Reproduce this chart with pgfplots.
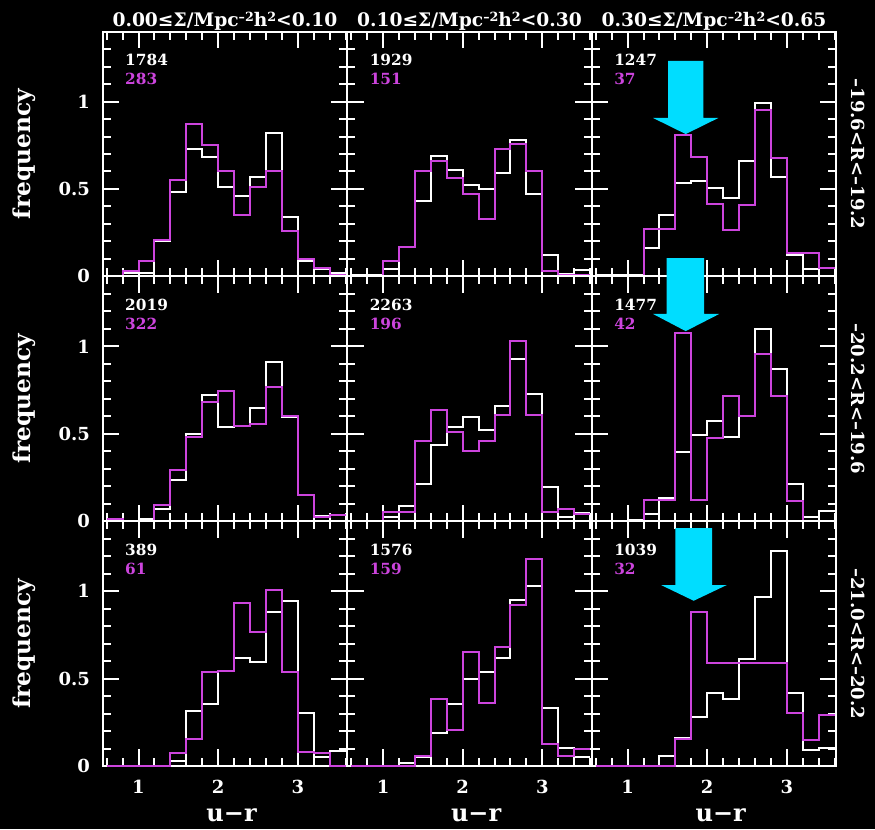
\documentclass[border=0pt]{standalone}
\usepackage{fontspec}
\setmainfont{DejaVu Serif}
\usepackage{pgfplots}
\pgfplotsset{compat=1.18}
\definecolor{mag}{RGB}{204,68,221}
\definecolor{cy}{RGB}{0,221,255}
\newcommand{\tfont}{\fontsize{14}{14}\selectfont\bfseries}
\newcommand{\kfont}{\fontsize{13.5}{13.5}\selectfont\bfseries}
\newcommand{\cfont}{\fontsize{11.5}{11.5}\selectfont\bfseries}
\newcommand{\supx}[1]{\raisebox{0.55ex}{\fontsize{9.5}{9.5}\selectfont #1}}
\pgfplotsset{
  panel/.style={
    scale only axis, width=183.4pt, height=183.6pt,
    anchor=south west, clip=false,
    xmin=0.55, xmax=3.62, ymin=0, ymax=1.4,
    axis line style={white, line width=1.5pt},
    tick style={white, line width=1.5pt},
    tick align=inside,
    major tick length=12.5pt, minor tick length=6pt,
    xtick={1,2,3}, ytick={0,0.5,1},
    minor xtick={0.6,0.8,1.2,1.4,1.6,1.8,2.2,2.4,2.6,2.8,3.2,3.4,3.6},
    minor ytick={0.1,0.2,0.3,0.4,0.6,0.7,0.8,0.9,1.1,1.2,1.3},
    xticklabels={}, yticklabels={},
    ticklabel style={white, font=\kfont},
    yticklabel style={xshift=-6pt},
    xticklabel style={yshift=-7pt},
  },
  wh/.style={white, line width=1.5pt, const plot, mark=none},
  mg/.style={mag, line width=1.5pt, const plot, mark=none},
}
\newcommand{\counts}[2]{%
  \node[anchor=west, inner sep=0pt, text=white, font=\cfont] at (axis cs:0.83,1.237) {#1};
  \node[anchor=west, inner sep=0pt, text=mag, font=\cfont] at (axis cs:0.83,1.129) {#2};}
\newcommand{\ttl}[1]{\node[anchor=base, text=white, font=\tfont, inner sep=0pt] at ([yshift=3.8pt]rel axis cs:0.5,1) {#1};}
\newcommand{\rlab}[1]{\node[rotate=-90, text=white, font=\fontsize{13.5}{13.5}\selectfont\bfseries, inner sep=0pt] at ([xshift=16.5pt]rel axis cs:1,0.5) {#1};}
\newcommand{\flab}{\node[rotate=90, text=white, font=\fontsize{17.5}{17.5}\selectfont\bfseries, inner sep=0pt] at ([xshift=-59pt]rel axis cs:0,0.5) {frequency};}
\newcommand{\ulab}{\node[text=white, font=\fontsize{18}{18}\selectfont\bfseries, inner sep=0pt] at ([xshift=5pt,yshift=-37pt]rel axis cs:0.5,0) {u−r};}
\newcommand{\Arrow}[8]{\fill[cy] (axis cs:#1,#3) -- (axis cs:#2,#3) -- (axis cs:#2,#4) -- (axis cs:#6,#4) -- (axis cs:#7,#8) -- (axis cs:#5,#4) -- (axis cs:#1,#4) -- cycle;}
\begin{document}
\begin{tikzpicture}
\fill[black] (0,0) rectangle (656.25pt,621.75pt);
\path[use as bounding box] (0,0) rectangle (656.25pt,621.75pt);
% ---------------- row 1 ----------------
\begin{axis}[panel, at={(77pt,414.45pt)}, yticklabels={0,0.5,1}]
\addplot[wh] coordinates {(0.6,0) (0.8,0.02) (1.0,0.02) (1.2,0.2) (1.4,0.48) (1.6,0.73) (1.8,0.68) (2.0,0.51) (2.2,0.46) (2.4,0.57) (2.6,0.82) (2.8,0.34) (3.0,0.09) (3.2,0.04) (3.4,0.02) (3.6,0.02)};
\addplot[mg] coordinates {(0.6,0) (0.8,0.03) (1.0,0.09) (1.2,0.21) (1.4,0.55) (1.6,0.87) (1.8,0.75) (2.0,0.60) (2.2,0.35) (2.4,0.51) (2.6,0.60) (2.8,0.26) (3.0,0.10) (3.2,0.05) (3.4,0.01) (3.6,0.01)};
\counts{1784}{283}
\ttl{0.00≤Σ/Mpc\supx{–2}h\supx{2}<0.10}
\flab
\end{axis}
\begin{axis}[panel, at={(260.4pt,414.45pt)}]
\addplot[wh] coordinates {(0.6,0.01) (0.8,0.01) (1.0,0.04) (1.2,0.17) (1.4,0.43) (1.6,0.69) (1.8,0.61) (2.0,0.52) (2.2,0.50) (2.4,0.59) (2.6,0.78) (2.8,0.47) (3.0,0.12) (3.2,0.015) (3.4,0.034) (3.6,0.034)};
\addplot[mg] coordinates {(0.6,0) (0.8,0) (1.0,0.09) (1.2,0.17) (1.4,0.60) (1.6,0.66) (1.8,0.56) (2.0,0.47) (2.2,0.33) (2.4,0.73) (2.6,0.76) (2.8,0.60) (3.0,0.03) (3.2,0.01) (3.4,0.01) (3.6,0.01)};
\counts{1929}{151}
\ttl{0.10≤Σ/Mpc\supx{–2}h\supx{2}<0.30}
\end{axis}
\begin{axis}[panel, at={(443.8pt,414.45pt)}]
\addplot[wh] coordinates {(0.6,0.01) (0.8,0.01) (1.0,0.01) (1.2,0.16) (1.4,0.35) (1.6,0.535) (1.8,0.545) (2.0,0.505) (2.2,0.45) (2.4,0.66) (2.6,0.99) (2.8,0.57) (3.0,0.12) (3.2,0.04) (3.4,0.05) (3.6,0.05)};
\addplot[mg] coordinates {(0.6,0) (0.8,0) (1.0,0) (1.2,0.27) (1.4,0.27) (1.6,0.81) (1.8,0.68) (2.0,0.415) (2.2,0.265) (2.4,0.41) (2.6,0.95) (2.8,0.675) (3.0,0.135) (3.2,0.135) (3.4,0.05) (3.6,0.05)};
\counts{1247}{37}
\ttl{0.30≤Σ/Mpc\supx{–2}h\supx{2}<0.65}
\rlab{–19.6<R<–19.2}
\Arrow{1.51}{1.95}{1.232}{0.906}{1.32}{2.14}{1.73}{0.814}
\end{axis}
% ---------------- row 2 ----------------
\begin{axis}[panel, at={(77pt,230.85pt)}, yticklabels={0,0.5,1}]
\addplot[wh] coordinates {(0.6,0) (0.8,0) (1.0,0.015) (1.2,0.072) (1.4,0.238) (1.6,0.50) (1.8,0.724) (2.0,0.537) (2.2,0.543) (2.4,0.648) (2.6,0.91) (2.8,0.594) (3.0,0.147) (3.2,0.029) (3.4,0.038) (3.6,0.038)};
\addplot[mg] coordinates {(0.6,0.01) (0.8,0) (1.0,0) (1.2,0.09) (1.4,0.29) (1.6,0.482) (1.8,0.682) (2.0,0.747) (2.2,0.543) (2.4,0.558) (2.6,0.766) (2.8,0.60) (3.0,0.147) (3.2,0.023) (3.4,0.034) (3.6,0.034)};
\counts{2019}{322}
\flab
\end{axis}
\begin{axis}[panel, at={(260.4pt,230.85pt)}]
\addplot[wh] coordinates {(0.6,0) (0.8,0) (1.0,0.023) (1.2,0.086) (1.4,0.21) (1.6,0.434) (1.8,0.537) (2.0,0.596) (2.2,0.52) (2.4,0.657) (2.6,0.93) (2.8,0.73) (3.0,0.194) (3.2,0.023) (3.4,0.048) (3.6,0.048)};
\addplot[mg] coordinates {(0.6,0) (0.8,0) (1.0,0.05) (1.2,0.05) (1.4,0.457) (1.6,0.638) (1.8,0.51) (2.0,0.404) (2.2,0.457) (2.4,0.61) (2.6,1.029) (2.8,0.61) (3.0,0.053) (3.2,0.072) (3.4,0.04) (3.6,0.04)};
\counts{2263}{196}
\end{axis}
\begin{axis}[panel, at={(443.8pt,230.85pt)}]
\addplot[wh] coordinates {(0.6,0) (0.8,0) (1.0,0.005) (1.2,0.042) (1.4,0.133) (1.6,0.394) (1.8,0.491) (2.0,0.571) (2.2,0.482) (2.4,0.60) (2.6,1.10) (2.8,0.872) (3.0,0.21) (3.2,0.023) (3.4,0.057) (3.6,0.057)};
\addplot[mg] coordinates {(0.6,0) (0.8,0) (1.0,0) (1.2,0.12) (1.4,0.12) (1.6,1.076) (1.8,0.12) (2.0,0.476) (2.2,0.714) (2.4,0.60) (2.6,0.956) (2.8,0.714) (3.0,0.118) (3.2,0) (3.4,0) (3.6,0)};
\counts{1477}{42}
\rlab{–20.2<R<–19.6}
\Arrow{1.49}{1.96}{1.505}{1.185}{1.32}{2.15}{1.73}{1.087}
\end{axis}
% ---------------- row 3 ----------------
\begin{axis}[panel, at={(77pt,47.25pt)}, yticklabels={0,0.5,1}, xticklabels={1,2,3}]
\addplot[wh] coordinates {(0.6,0) (0.8,0) (1.0,0) (1.2,0) (1.4,0.03) (1.6,0.314) (1.8,0.354) (2.0,0.543) (2.2,0.619) (2.4,0.596) (2.6,0.882) (2.8,0.945) (3.0,0.305) (3.2,0.053) (3.4,0.088) (3.6,0.1)};
\addplot[mg] coordinates {(0.6,0) (0.8,0) (1.0,0) (1.2,0) (1.4,0.076) (1.6,0.154) (1.8,0.539) (2.0,0.543) (2.2,0.93) (2.4,0.768) (2.6,1.006) (2.8,0.539) (3.0,0.082) (3.2,0.076) (3.4,0) (3.6,0)};
\counts{389}{61}
\flab
\ulab
\end{axis}
\begin{axis}[panel, at={(260.4pt,47.25pt)}, xticklabels={1,2,3}]
\addplot[wh] coordinates {(0.6,0) (0.8,0) (1.0,0) (1.2,0.015) (1.4,0.053) (1.6,0.19) (1.8,0.354) (2.0,0.495) (2.2,0.539) (2.4,0.615) (2.6,0.949) (2.8,1.03) (3.0,0.333) (3.2,0.101) (3.4,0.053) (3.6,0.053)};
\addplot[mg] coordinates {(0.6,0) (0.8,0) (1.0,0) (1.2,0) (1.4,0.057) (1.6,0.383) (1.8,0.206) (2.0,0.653) (2.2,0.362) (2.4,0.682) (2.6,0.92) (2.8,1.183) (3.0,0.124) (3.2,0.059) (3.4,0.097) (3.6,0.097)};
\counts{1576}{159}
\ulab
\end{axis}
\begin{axis}[panel, at={(443.8pt,47.25pt)}, xticklabels={1,2,3}]
\addplot[wh] coordinates {(0.6,0) (0.8,0) (1.0,0) (1.2,0) (1.4,0.059) (1.6,0.158) (1.8,0.282) (2.0,0.419) (2.2,0.381) (2.4,0.61) (2.6,0.968) (2.8,1.23) (3.0,0.415) (3.2,0.091) (3.4,0.101) (3.6,0.101)};
\addplot[mg] coordinates {(0.6,0) (0.8,0) (1.0,0) (1.2,0) (1.4,0) (1.6,0.154) (1.8,0.882) (2.0,0.59) (2.2,0.59) (2.4,0.59) (2.6,0.59) (2.8,0.59) (3.0,0.301) (3.2,0.149) (3.4,0.291) (3.6,0.291)};
\counts{1039}{32}
\rlab{–21.0<R<–20.2}
\ulab
\Arrow{1.60}{2.06}{1.361}{1.035}{1.42}{2.245}{1.83}{0.945}
\end{axis}
\end{tikzpicture}
\end{document}
